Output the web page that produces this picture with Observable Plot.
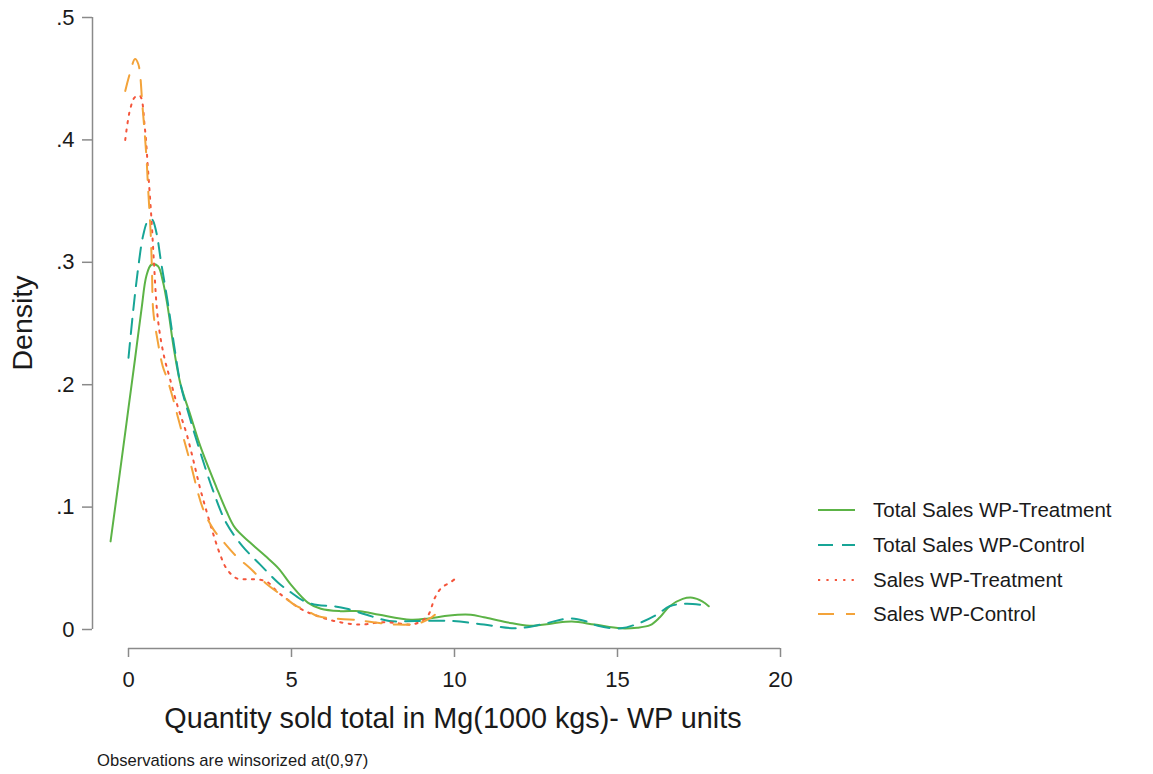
<!DOCTYPE html>
<html>
<head>
<meta charset="utf-8">
<script src="https://cdn.jsdelivr.net/npm/d3@7"></script>
<script src="https://cdn.jsdelivr.net/npm/@observablehq/plot@0.6"></script>
<style>
  html, body { margin: 0; padding: 0; background: #fff; }
  #wrap { position: relative; width: 1153px; height: 774px; font-family: "Liberation Sans", Arial, sans-serif; color: #1a1a1a; }
  #chart { position: absolute; left: 0; top: 0; }
  .lbl { position: absolute; white-space: nowrap; }
  #legend { position: absolute; left: 818px; top: 493px; }
  .row { display: flex; align-items: center; height: 34.7px; font-size: 20.5px; }
  .row svg { margin-right: 18px; }
</style>
</head>
<body>
<div id="wrap">
  <div id="chart"></div>
  <div class="lbl" id="ytitle" style="font-size:28.5px; left:22px; top:323px; transform: translate(-50%,-50%) rotate(-90deg);">Density</div>
  <div class="lbl" id="xtitle" style="font-size:28.8px; left:453px; top:702px; transform: translateX(-50%);">Quantity sold total in Mg(1000 kgs)- WP units</div>
  <div class="lbl" id="caption" style="font-size:16.6px; left:97px; top:751px;">Observations are winsorized at(0,97)</div>
  <div id="legend"></div>
</div>
<script>
// ---- data ----
const seriesNames = ["Total Sales WP-Treatment", "Total Sales WP-Control", "Sales WP-Treatment", "Sales WP-Control"];

const totalTreatX = [-0.55, -0.2, 0, 0.2, 0.4, 0.55, 0.7, 0.9, 1.05, 1.2, 1.4, 1.6, 1.9, 2.2, 2.7, 3.0, 3.27, 3.73, 4.2, 4.6, 5.0, 5.5, 5.9, 6.5, 7.1, 7.7, 8.66, 9.2, 9.7, 10.1, 10.5, 10.9, 11.6, 12.3, 13.0, 13.6, 14.3, 15.1, 15.6, 16.0, 16.3, 16.6, 17.0, 17.3, 17.6, 17.8];
const totalTreatY = [0.072, 0.141, 0.181, 0.221, 0.262, 0.289, 0.298, 0.297, 0.285, 0.264, 0.228, 0.20, 0.175, 0.150, 0.116, 0.097, 0.083, 0.071, 0.060, 0.050, 0.036, 0.022, 0.017, 0.015, 0.015, 0.012, 0.008, 0.009, 0.011, 0.012, 0.012, 0.010, 0.006, 0.003, 0.005, 0.0065, 0.004, 0.001, 0.0015, 0.0035, 0.010, 0.019, 0.025, 0.026, 0.023, 0.019];

const totalCtrlX = [0, 0.15, 0.3, 0.45, 0.6, 0.72, 0.85, 1.0, 1.2, 1.4, 1.6, 1.88, 2.2, 2.6, 3.0, 3.5, 4.04, 4.6, 5.0, 5.4, 5.8, 6.3, 6.7, 7.3, 8.0, 8.8, 9.9, 10.9, 11.9, 12.8, 13.5, 14.0, 14.4, 15.1, 15.65, 16.2, 16.6, 17.1, 17.6];
const totalCtrlY = [0.222, 0.262, 0.296, 0.322, 0.334, 0.335, 0.325, 0.300, 0.268, 0.232, 0.200, 0.173, 0.145, 0.113, 0.087, 0.068, 0.053, 0.038, 0.030, 0.023, 0.020, 0.019, 0.017, 0.012, 0.007, 0.007, 0.007, 0.004, 0.001, 0.005, 0.009, 0.007, 0.003, 0.001, 0.005, 0.012, 0.019, 0.021, 0.020];

const salesTreatX = [-0.1, 0.05, 0.2, 0.35, 0.5, 0.6, 0.7, 0.78, 0.87, 0.96, 1.1, 1.26, 1.5, 1.78, 2.0, 2.19, 2.4, 2.6, 2.8, 3.0, 3.3, 3.6, 3.9, 4.25, 4.56, 4.8, 5.27, 5.7, 6.3, 7.1, 7.8, 8.3, 8.66, 9.0, 9.2, 9.4, 9.6, 9.9, 10.0];
const salesTreatY = [0.400, 0.425, 0.435, 0.436, 0.410, 0.375, 0.337, 0.300, 0.262, 0.242, 0.222, 0.206, 0.183, 0.160, 0.137, 0.116, 0.096, 0.078, 0.062, 0.050, 0.042, 0.041, 0.041, 0.039, 0.031, 0.026, 0.017, 0.012, 0.007, 0.004, 0.006, 0.005, 0.004, 0.007, 0.012, 0.026, 0.034, 0.039, 0.041];

const salesCtrlX = [-0.1, 0.05, 0.2, 0.3, 0.43, 0.55, 0.6, 0.68, 0.72, 0.76, 0.9, 1.05, 1.17, 1.32, 1.6, 1.88, 2.28, 2.6, 2.9, 3.3, 3.73, 4.2, 4.75, 5.1, 5.5, 5.8, 6.3, 6.9, 7.5, 8.25, 8.9, 9.3, 9.4];
const salesCtrlY = [0.440, 0.455, 0.466, 0.462, 0.427, 0.386, 0.361, 0.324, 0.293, 0.260, 0.235, 0.215, 0.206, 0.193, 0.165, 0.138, 0.099, 0.082, 0.072, 0.060, 0.050, 0.038, 0.027, 0.020, 0.015, 0.011, 0.009, 0.008, 0.006, 0.004, 0.005, 0.010, 0.012];

const xTicks = [0, 5, 10, 15, 20];
const yTicks = [0, 0.1, 0.2, 0.3, 0.4, 0.5];
const yTickLabels = ["0", ".1", ".2", ".3", ".4", ".5"];

// ---- styles ----
const styles = [
  {color: "#5cb346", dash: null},
  {color: "#17a596", dash: "15,9"},
  {color: "#f4553b", dash: "2.2,6.2"},
  {color: "#f3a33a", dash: "16,12"}
];

const xs = [totalTreatX, totalCtrlX, salesTreatX, salesCtrlX];
const ys = [totalTreatY, totalCtrlY, salesTreatY, salesCtrlY];
const tables = xs.map((X, i) => X.map((x, j) => ({x, y: ys[i][j], s: seriesNames[i]})));

const axisColor = "#8a8a8a";
const plot = Plot.plot({
  width: 1153,
  height: 774,
  marginLeft: 128,
  marginRight: 373,
  marginTop: 17,
  marginBottom: 145,
  style: {fontFamily: "'Liberation Sans', Arial, sans-serif", fontSize: "22px", color: "#1a1a1a", background: "#fff"},
  x: {domain: [0, 20]},
  y: {domain: [0, 0.5]},
  marks: [
    Plot.ruleX([0], {y1: 0, y2: 0.5, dx: -36, stroke: axisColor, strokeWidth: 1.5}),
    Plot.ruleY([0], {x1: 0, x2: 20, dy: 19, stroke: axisColor, strokeWidth: 1.5}),
    Plot.axisY({ticks: yTicks, tickFormat: d => yTickLabels[yTicks.indexOf(d)], tickSize: 10, tickPadding: 8, dx: -36, stroke: axisColor, strokeWidth: 1.5, label: null, fontSize: 22}),
    Plot.axisX({ticks: xTicks, tickFormat: d => String(d), tickSize: 9, tickPadding: 14, dy: 19, stroke: axisColor, strokeWidth: 1.5, label: null, fontSize: 22}),
    ...tables.map((t, i) => Plot.line(t, {x: "x", y: "y", stroke: styles[i].color, strokeWidth: 2, strokeDasharray: styles[i].dash, curve: "catmull-rom"}))
  ]
});
document.getElementById("chart").appendChild(plot);

// ---- legend ----
const legend = document.getElementById("legend");
seriesNames.forEach((name, i) => {
  const row = document.createElement("div");
  row.className = "row";
  const dash = styles[i].dash ? `stroke-dasharray="${styles[i].dash}"` : "";
  row.innerHTML = `<svg width="37" height="6"><line x1="0" x2="37" y1="3" y2="3" stroke="${styles[i].color}" stroke-width="2" ${dash}></line></svg><span>${name}</span>`;
  legend.appendChild(row);
});
</script>
</body>
</html>
